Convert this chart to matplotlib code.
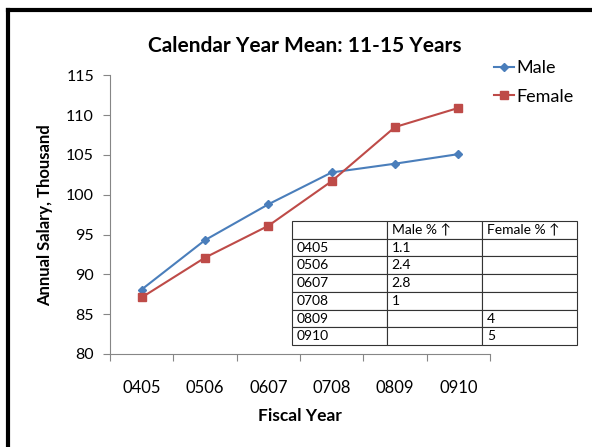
import matplotlib.pyplot as plt
from matplotlib.lines import Line2D

years = ["0405", "0506", "0607", "0708", "0809", "0910"]
male = [88.1, 94.3, 98.8, 102.8, 103.9, 105.1]
female = [87.1, 92.1, 96.1, 101.7, 108.5, 110.9]
male_pct = ["1.1", "2.4", "2.8", "1", "", ""]
female_pct = ["", "", "", "", "4", "5"]
table_cols = ["", "Male % \u2191", "Female % \u2191"]

plt.rcParams['font.family'] = ['Lato', 'DejaVu Sans']

fig = plt.figure(figsize=(5.92, 4.47), dpi=100)
ax = fig.add_axes([110 / 592, 93 / 447, 380 / 592, 278.7 / 447])

x = [i + 0.5 for i in range(len(years))]
ax.plot(x, male, color='#4A7EBB', marker='D', markersize=4, lw=1.5, label='Male')
ax.plot(x, female, color='#BE4B48', marker='s', markersize=6, lw=1.5, label='Female')

ax.set_xlim(0, len(years))
ax.set_ylim(80, 115)
ax.set_yticks(range(80, 116, 5))
ax.set_xticks(range(len(years) + 1))
ax.set_xticklabels([])
ax.set_xticks(x, minor=True)
ax.set_xticklabels(years, minor=True)
ax.tick_params(axis='x', which='minor', length=0, pad=19, labelsize=12)
ax.tick_params(axis='x', which='major', length=5, color='#868686')
ax.tick_params(axis='y', length=5, color='#868686', labelsize=11.5, pad=6.5)
for s in ['top', 'right']:
    ax.spines[s].set_visible(False)
for s in ['left', 'bottom']:
    ax.spines[s].set_color('#868686')

fig.text(304.5 / 592, 1 - 46 / 447, "Calendar Year Mean: 11-15 Years", fontsize=15,
         fontweight='bold', ha='center', va='center')
ax.set_ylabel("Annual Salary, Thousand", fontsize=12, fontweight='bold', labelpad=9)
ax.set_xlabel("Fiscal Year", fontsize=12.5, fontweight='bold', labelpad=8.5)

ax.legend(loc='upper left', bbox_to_anchor=(494 / 592, 1 - 60 / 447),
          bbox_transform=fig.transFigure, frameon=False, fontsize=13,
          handlelength=1.1, handletextpad=0.15, labelspacing=0.7, borderaxespad=0,
          borderpad=0)

rows = [[y, m, f] for y, m, f in zip(years, male_pct, female_pct)]
tbl = ax.table(cellText=rows, colLabels=table_cols, cellLoc='left', colLoc='left',
               bbox=[0.479, 0.032, 0.750, 0.445])
tbl.auto_set_font_size(False)
tbl.set_fontsize(10)
for cell in tbl.get_celld().values():
    cell.set_linewidth(0.8)
    cell.set_edgecolor('#333333')
    cell.PAD = 0.05

# frame border (top and left edges visible)
fig.add_artist(Line2D([8 / 592, 8 / 592], [0, 1 - 9.5 / 447], color='black', lw=3,
                      transform=fig.transFigure, solid_capstyle='projecting'))
fig.add_artist(Line2D([8 / 592, 1], [1 - 9.5 / 447, 1 - 9.5 / 447], color='black', lw=3,
                      transform=fig.transFigure, solid_capstyle='projecting'))

fig.savefig("out.png", dpi=100)
